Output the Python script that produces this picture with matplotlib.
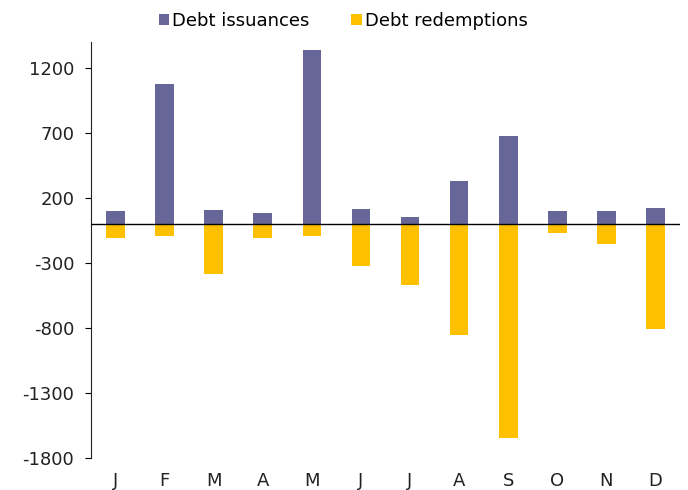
import matplotlib
matplotlib.use("Agg")
import matplotlib.pyplot as plt
import numpy as np

months = ["J", "F", "M", "A", "M", "J", "J", "A", "S", "O", "N", "D"]
issuances = [100, 1080, 108, 82, 1335, 118, 56, 328, 680, 100, 100, 123]
redemptions = [-111, -92, -382, -111, -92, -321, -467, -853, -1645, -67, -157, -807]
yticks = [1200, 700, 200, -300, -800, -1300, -1800]

plt.rcParams['font.family'] = ['DejaVu Sans']
fig = plt.figure(figsize=(6.88, 4.90), dpi=100)
ax = fig.add_axes([91/688, 1 - 458/490, (680-91)/688, (458-42)/490])

x = np.arange(len(months))
w = 0.38
b1 = ax.bar(x, issuances, width=w, color="#666699", label="Debt issuances", zorder=2)
b2 = ax.bar(x, redemptions, width=w, color="#FFC000", label="Debt redemptions", zorder=2)
ax.axhline(0, color="black", linewidth=1, zorder=3)

fs = 13
ax.set_xlim(-0.5, len(months) - 0.5)
ax.set_ylim(-1800, 1400)
ax.set_yticks(yticks)
ax.set_yticklabels([str(v) for v in yticks], fontsize=fs, color="#222222")
ax.set_xticks(x)
ax.set_xticklabels(months, fontsize=fs, color="#222222")
ax.tick_params(axis="x", length=0, pad=10)
ax.tick_params(axis="y", length=4, width=0.8, direction="out", pad=8)
for s in ["top", "right", "bottom"]:
    ax.spines[s].set_visible(False)
ax.spines["left"].set_linewidth(0.8)
ax.spines["left"].set_color("#222222")

fig.legend(handles=[b1, b2], labels=["Debt issuances", "Debt redemptions"],
           loc="center", bbox_to_anchor=(343/688, 1 - 21/490), ncol=2, frameon=False,
           fontsize=fs, handlelength=0.6, handleheight=0.6, handletextpad=0.15,
           columnspacing=2.3)

fig.savefig("out.png", dpi=100)
